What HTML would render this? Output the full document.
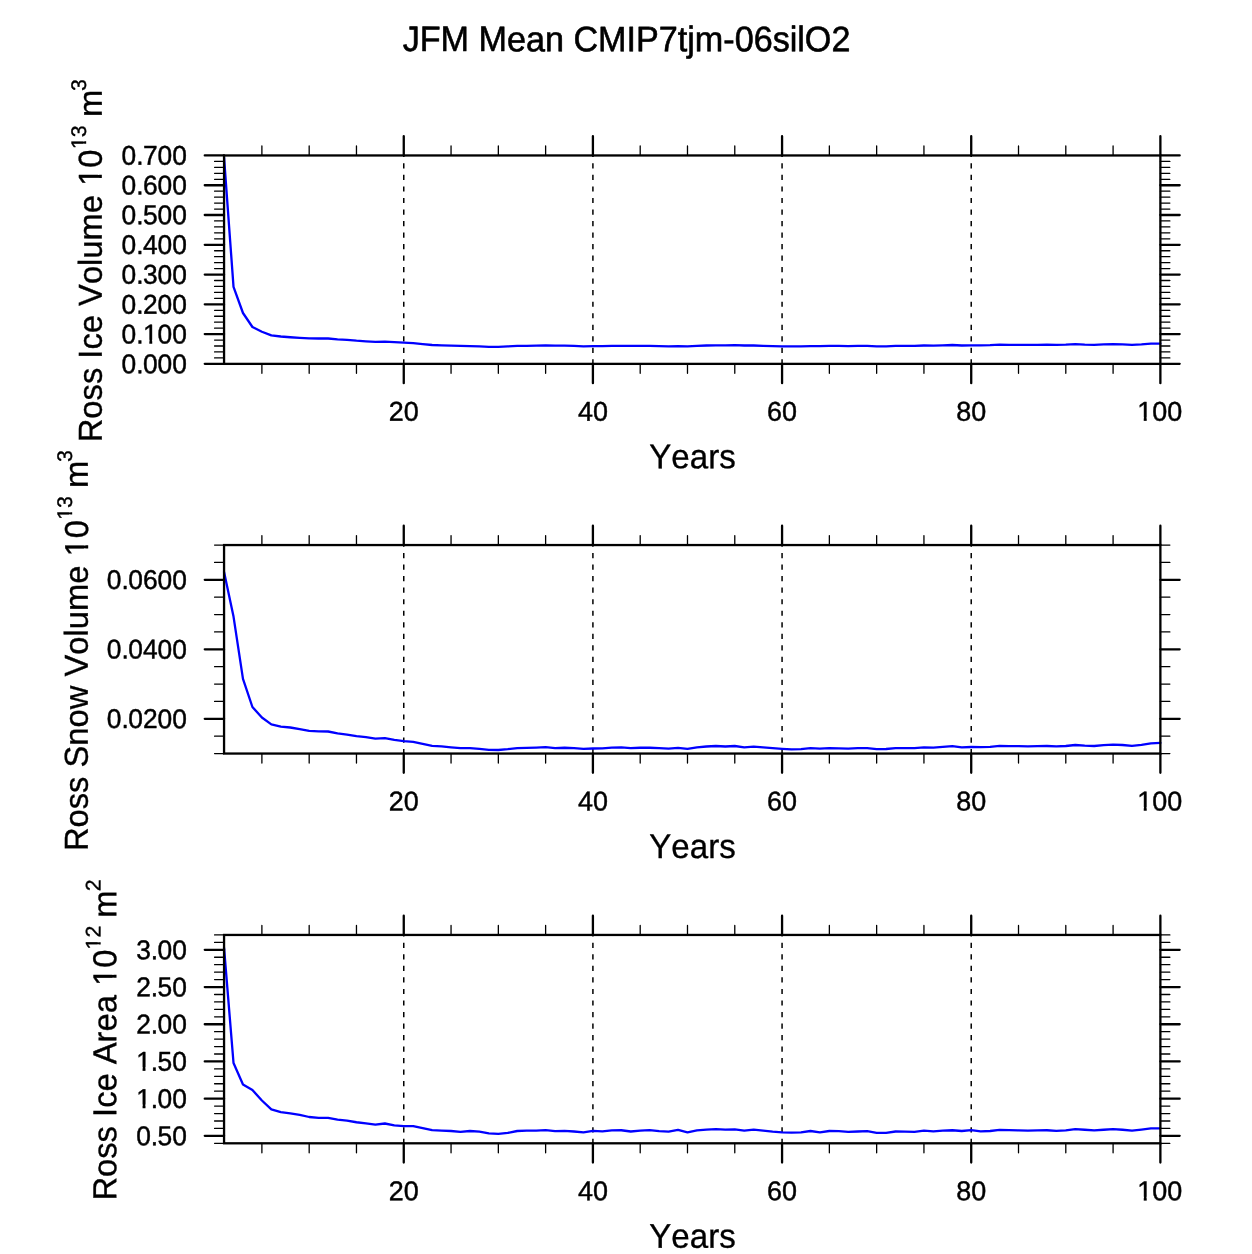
<!DOCTYPE html>
<html lang="en"><head><meta charset="utf-8"><title>JFM Mean CMIP7tjm-06silO2</title>
<style>
html,body{margin:0;padding:0;background:#fff;}
body{width:1252px;height:1254px;overflow:hidden;}
svg{display:block;font-family:"Liberation Sans",sans-serif;}
text{fill:#000;stroke:#000;stroke-linejoin:round;font-kerning:none;}
</style></head><body>
<svg width="1252" height="1254" viewBox="0 0 1252 1254">
<rect width="1252" height="1254" fill="#fff"/>
<text transform="matrix(0.9650 0.0006 0 1 626.55 51.20)" font-size="35.4" text-anchor="middle" stroke-width="0.6">JFM Mean CMIP7tjm-06silO2</text>
<g><path d="M403.76 364.47V155.46M592.91 364.47V155.46M782.07 364.47V155.46M971.22 364.47V155.46" fill="none" stroke="#000" stroke-width="1.5" stroke-dasharray="5.2 6.325"/>
<polyline points="224.06,157.70 233.52,286.80 242.98,313.00 252.43,327.00 261.89,331.75 271.35,335.40 280.81,336.50 290.26,337.25 299.72,337.90 309.18,338.45 318.64,338.50 328.10,338.50 337.55,339.30 347.01,339.80 356.47,340.70 365.93,341.30 375.38,341.85 384.84,341.60 394.30,342.20 403.76,342.65 413.22,343.10 422.67,344.05 432.13,345.00 441.59,345.30 451.05,345.65 460.50,345.97 469.96,346.10 479.42,346.45 488.88,346.80 498.34,346.80 507.79,346.45 517.25,345.97 526.71,345.80 536.17,345.65 545.62,345.50 555.08,345.65 564.54,345.65 574.00,345.97 583.46,346.30 592.91,346.20 602.37,346.10 611.83,345.80 621.29,345.80 630.74,345.97 640.20,345.80 649.66,345.80 659.12,346.10 668.58,346.30 678.03,346.10 687.49,346.45 696.95,345.80 706.41,345.50 715.86,345.30 725.32,345.30 734.78,345.20 744.24,345.50 753.70,345.50 763.15,345.80 772.61,346.10 782.07,346.30 791.53,346.45 800.98,346.45 810.44,346.10 819.90,346.10 829.36,345.80 838.82,345.97 848.27,346.10 857.73,345.97 867.19,345.97 876.65,346.45 886.10,346.45 895.56,345.97 905.02,345.80 914.48,345.80 923.94,345.50 933.39,345.65 942.85,345.30 952.31,345.00 961.77,345.50 971.22,345.30 980.68,345.30 990.14,345.20 999.60,344.70 1009.06,344.85 1018.51,344.85 1027.97,344.85 1037.43,344.85 1046.89,344.70 1056.34,344.85 1065.80,344.70 1075.26,344.20 1084.72,344.70 1094.18,344.85 1103.63,344.40 1113.09,344.05 1122.55,344.40 1132.01,344.85 1141.46,344.40 1150.92,343.70 1160.38,343.60" fill="none" stroke="#0000ff" stroke-width="2.3" stroke-linejoin="round" stroke-linecap="round"/>
<path d="M224.06 357.92H214.56M1160.38 357.92H1169.88M224.06 351.96H214.56M1160.38 351.96H1169.88M224.06 346.01H214.56M1160.38 346.01H1169.88M224.06 340.05H214.56M1160.38 340.05H1169.88M224.06 328.14H214.56M1160.38 328.14H1169.88M224.06 322.19H214.56M1160.38 322.19H1169.88M224.06 316.23H214.56M1160.38 316.23H1169.88M224.06 310.28H214.56M1160.38 310.28H1169.88M224.06 298.37H214.56M1160.38 298.37H1169.88M224.06 292.42H214.56M1160.38 292.42H1169.88M224.06 286.46H214.56M1160.38 286.46H1169.88M224.06 280.51H214.56M1160.38 280.51H1169.88M224.06 268.60H214.56M1160.38 268.60H1169.88M224.06 262.64H214.56M1160.38 262.64H1169.88M224.06 256.69H214.56M1160.38 256.69H1169.88M224.06 250.73H214.56M1160.38 250.73H1169.88M224.06 238.82H214.56M1160.38 238.82H1169.88M224.06 232.87H214.56M1160.38 232.87H1169.88M224.06 226.91H214.56M1160.38 226.91H1169.88M224.06 220.96H214.56M1160.38 220.96H1169.88M224.06 209.05H214.56M1160.38 209.05H1169.88M224.06 203.10H214.56M1160.38 203.10H1169.88M224.06 197.14H214.56M1160.38 197.14H1169.88M224.06 191.19H214.56M1160.38 191.19H1169.88M224.06 179.28H214.56M1160.38 179.28H1169.88M224.06 173.32H214.56M1160.38 173.32H1169.88M224.06 167.37H214.56M1160.38 167.37H1169.88M224.06 161.41H214.56M1160.38 161.41H1169.88M261.89 155.46V145.96M261.89 363.87V373.37M309.18 155.46V145.96M309.18 363.87V373.37M356.47 155.46V145.96M356.47 363.87V373.37M451.05 155.46V145.96M451.05 363.87V373.37M498.34 155.46V145.96M498.34 363.87V373.37M545.62 155.46V145.96M545.62 363.87V373.37M640.20 155.46V145.96M640.20 363.87V373.37M687.49 155.46V145.96M687.49 363.87V373.37M734.78 155.46V145.96M734.78 363.87V373.37M829.36 155.46V145.96M829.36 363.87V373.37M876.65 155.46V145.96M876.65 363.87V373.37M923.94 155.46V145.96M923.94 363.87V373.37M1018.51 155.46V145.96M1018.51 363.87V373.37M1065.80 155.46V145.96M1065.80 363.87V373.37M1113.09 155.46V145.96M1113.09 363.87V373.37" fill="none" stroke="#000" stroke-width="1.3" stroke-linecap="round"/>
<path d="M224.06 363.87H204.76M1160.38 363.87H1179.68M224.06 334.10H204.76M1160.38 334.10H1179.68M224.06 304.32H204.76M1160.38 304.32H1179.68M224.06 274.55H204.76M1160.38 274.55H1179.68M224.06 244.78H204.76M1160.38 244.78H1179.68M224.06 215.01H204.76M1160.38 215.01H1179.68M224.06 185.23H204.76M1160.38 185.23H1179.68M224.06 155.46H204.76M1160.38 155.46H1179.68M403.76 155.46V136.16M403.76 363.87V383.17M592.91 155.46V136.16M592.91 363.87V383.17M782.07 155.46V136.16M782.07 363.87V383.17M971.22 155.46V136.16M971.22 363.87V383.17M1160.38 155.46V136.16M1160.38 363.87V383.17" fill="none" stroke="#000" stroke-width="2.3" stroke-linecap="round"/>
<rect x="224.06" y="155.46" width="936.32" height="208.41" fill="none" stroke="#000" stroke-width="2.3"/>
<text transform="matrix(0.9700 0.0006 0 1 186.95 373.22)" font-size="27.2" text-anchor="end" stroke-width="0.45" dx="0 0 -0.6 0 0">0.000</text>
<text transform="matrix(0.9700 0.0006 0 1 186.95 343.45)" font-size="27.2" text-anchor="end" stroke-width="0.45" dx="0 0 -0.6 0 0">0.100</text><path transform="matrix(0.9700 0.0006 0 1 186.95 343.45)" d="M-44.33 -3.56h5.54v4.98h-5.54zM-35.79 -3.56h5.24v4.98h-5.24z" fill="#fff"/>
<text transform="matrix(0.9700 0.0006 0 1 186.95 313.67)" font-size="27.2" text-anchor="end" stroke-width="0.45" dx="0 0 -0.6 0 0">0.200</text>
<text transform="matrix(0.9700 0.0006 0 1 186.95 283.90)" font-size="27.2" text-anchor="end" stroke-width="0.45" dx="0 0 -0.6 0 0">0.300</text>
<text transform="matrix(0.9700 0.0006 0 1 186.95 254.13)" font-size="27.2" text-anchor="end" stroke-width="0.45" dx="0 0 -0.6 0 0">0.400</text>
<text transform="matrix(0.9700 0.0006 0 1 186.95 224.36)" font-size="27.2" text-anchor="end" stroke-width="0.45" dx="0 0 -0.6 0 0">0.500</text>
<text transform="matrix(0.9700 0.0006 0 1 186.95 194.58)" font-size="27.2" text-anchor="end" stroke-width="0.45" dx="0 0 -0.6 0 0">0.600</text>
<text transform="matrix(0.9700 0.0006 0 1 186.95 164.81)" font-size="27.2" text-anchor="end" stroke-width="0.45" dx="0 0 -0.6 0 0">0.700</text>
<text transform="matrix(0.9900 0.0006 0 1 403.76 420.84)" font-size="27.2" text-anchor="middle" stroke-width="0.45">20</text>
<text transform="matrix(0.9900 0.0006 0 1 592.91 420.84)" font-size="27.2" text-anchor="middle" stroke-width="0.45">40</text>
<text transform="matrix(0.9900 0.0006 0 1 782.07 420.84)" font-size="27.2" text-anchor="middle" stroke-width="0.45">60</text>
<text transform="matrix(0.9900 0.0006 0 1 971.22 420.84)" font-size="27.2" text-anchor="middle" stroke-width="0.45">80</text>
<text transform="matrix(0.9900 0.0006 0 1 1159.68 420.84)" font-size="27.2" text-anchor="middle" stroke-width="0.45">100</text><path transform="matrix(0.9900 0.0006 0 1 1159.68 420.84)" d="M-21.64 -3.56h5.54v4.98h-5.54zM-13.10 -3.56h5.24v4.98h-5.24z" fill="#fff"/>
<text transform="matrix(0.9680 0.0006 0 1 692.52 468.27)" font-size="34.2" text-anchor="middle" stroke-width="0.35">Years</text>
<g transform="translate(101.70 442.30) rotate(-90)"><text transform="matrix(0.9860 0.0006 0 1 0.00 0.00)" font-size="33.2" text-anchor="start" stroke-width="0.35">Ross Ice Volume 10</text><path transform="matrix(0.9860 0.0006 0 1 0.00 0.00)" d="M261.62 -3.96h6.50v5.33h-6.50zM271.28 -3.96h6.60v5.33h-6.60z" fill="#fff"/><text transform="matrix(1.0000 0.0006 0 1 293.20 -15.60)" font-size="21.2" text-anchor="start" stroke-width="0.35">13</text><path transform="matrix(1.0000 0.0006 0 1 293.20 -15.60)" d="M0.64 -3.06h4.68v4.43h-4.68zM7.73 -3.06h4.00v4.43h-4.00z" fill="#fff"/><text transform="matrix(0.9860 0.0006 0 1 325.20 0.00)" font-size="33.2" text-anchor="start" stroke-width="0.35">m</text><text transform="matrix(1.0000 0.0006 0 1 351.20 -15.60)" font-size="21.2" text-anchor="start" stroke-width="0.35">3</text></g></g>
<g><path d="M403.76 754.15V545.05M592.91 754.15V545.05M782.07 754.15V545.05M971.22 754.15V545.05" fill="none" stroke="#000" stroke-width="1.5" stroke-dasharray="5.2 6.325"/>
<polyline points="224.06,572.00 233.52,616.60 242.98,678.80 252.43,707.00 261.89,717.50 271.35,724.35 280.81,726.65 290.26,727.50 299.72,729.20 309.18,730.90 318.64,731.35 328.10,731.50 337.55,733.40 347.01,734.55 356.47,736.20 365.93,737.20 375.38,738.60 384.84,738.10 394.30,739.90 403.76,741.05 413.22,741.80 422.67,743.90 432.13,745.80 441.59,746.30 451.05,747.30 460.50,748.10 469.96,748.10 479.42,748.90 488.88,749.80 498.34,750.00 507.79,749.20 517.25,748.10 526.71,747.90 536.17,747.60 545.62,747.10 555.08,748.20 564.54,747.75 574.00,748.20 583.46,748.90 592.91,748.50 602.37,748.40 611.83,747.60 621.29,747.40 630.74,748.20 640.20,747.75 649.66,747.75 659.12,748.20 668.58,748.55 678.03,747.90 687.49,748.90 696.95,747.30 706.41,746.50 715.86,746.00 725.32,746.50 734.78,746.00 744.24,747.40 753.70,746.60 763.15,747.40 772.61,748.20 782.07,748.80 791.53,749.35 800.98,749.20 810.44,748.20 819.90,748.55 829.36,748.10 838.82,748.40 848.27,748.55 857.73,748.20 867.19,748.20 876.65,749.20 886.10,749.00 895.56,748.20 905.02,748.20 914.48,748.20 923.94,747.40 933.39,747.60 942.85,746.95 952.31,746.15 961.77,747.30 971.22,747.00 980.68,747.10 990.14,746.80 999.60,745.80 1009.06,746.15 1018.51,746.15 1027.97,746.30 1037.43,746.15 1046.89,746.00 1056.34,746.30 1065.80,746.00 1075.26,745.00 1084.72,745.70 1094.18,746.00 1103.63,745.20 1113.09,744.55 1122.55,745.00 1132.01,745.80 1141.46,744.90 1150.92,743.30 1160.38,742.90" fill="none" stroke="#0000ff" stroke-width="2.3" stroke-linejoin="round" stroke-linecap="round"/>
<path d="M224.06 753.55H214.56M1160.38 753.55H1169.88M224.06 736.17H214.56M1160.38 736.17H1169.88M224.06 701.42H214.56M1160.38 701.42H1169.88M224.06 684.05H214.56M1160.38 684.05H1169.88M224.06 666.67H214.56M1160.38 666.67H1169.88M224.06 631.92H214.56M1160.38 631.92H1169.88M224.06 614.55H214.56M1160.38 614.55H1169.88M224.06 597.17H214.56M1160.38 597.17H1169.88M224.06 562.42H214.56M1160.38 562.42H1169.88M224.06 545.05H214.56M1160.38 545.05H1169.88M261.89 545.05V535.55M261.89 753.55V763.05M309.18 545.05V535.55M309.18 753.55V763.05M356.47 545.05V535.55M356.47 753.55V763.05M451.05 545.05V535.55M451.05 753.55V763.05M498.34 545.05V535.55M498.34 753.55V763.05M545.62 545.05V535.55M545.62 753.55V763.05M640.20 545.05V535.55M640.20 753.55V763.05M687.49 545.05V535.55M687.49 753.55V763.05M734.78 545.05V535.55M734.78 753.55V763.05M829.36 545.05V535.55M829.36 753.55V763.05M876.65 545.05V535.55M876.65 753.55V763.05M923.94 545.05V535.55M923.94 753.55V763.05M1018.51 545.05V535.55M1018.51 753.55V763.05M1065.80 545.05V535.55M1065.80 753.55V763.05M1113.09 545.05V535.55M1113.09 753.55V763.05" fill="none" stroke="#000" stroke-width="1.3" stroke-linecap="round"/>
<path d="M224.06 718.80H204.76M1160.38 718.80H1179.68M224.06 649.30H204.76M1160.38 649.30H1179.68M224.06 579.80H204.76M1160.38 579.80H1179.68M403.76 545.05V525.75M403.76 753.55V772.85M592.91 545.05V525.75M592.91 753.55V772.85M782.07 545.05V525.75M782.07 753.55V772.85M971.22 545.05V525.75M971.22 753.55V772.85M1160.38 545.05V525.75M1160.38 753.55V772.85" fill="none" stroke="#000" stroke-width="2.3" stroke-linecap="round"/>
<rect x="224.06" y="545.05" width="936.32" height="208.50" fill="none" stroke="#000" stroke-width="2.3"/>
<text transform="matrix(0.9700 0.0006 0 1 186.95 728.15)" font-size="27.2" text-anchor="end" stroke-width="0.45" dx="0 0 -0.6 0 0 0">0.0200</text>
<text transform="matrix(0.9700 0.0006 0 1 186.95 658.65)" font-size="27.2" text-anchor="end" stroke-width="0.45" dx="0 0 -0.6 0 0 0">0.0400</text>
<text transform="matrix(0.9700 0.0006 0 1 186.95 589.15)" font-size="27.2" text-anchor="end" stroke-width="0.45" dx="0 0 -0.6 0 0 0">0.0600</text>
<text transform="matrix(0.9900 0.0006 0 1 403.76 810.52)" font-size="27.2" text-anchor="middle" stroke-width="0.45">20</text>
<text transform="matrix(0.9900 0.0006 0 1 592.91 810.52)" font-size="27.2" text-anchor="middle" stroke-width="0.45">40</text>
<text transform="matrix(0.9900 0.0006 0 1 782.07 810.52)" font-size="27.2" text-anchor="middle" stroke-width="0.45">60</text>
<text transform="matrix(0.9900 0.0006 0 1 971.22 810.52)" font-size="27.2" text-anchor="middle" stroke-width="0.45">80</text>
<text transform="matrix(0.9900 0.0006 0 1 1159.68 810.52)" font-size="27.2" text-anchor="middle" stroke-width="0.45">100</text><path transform="matrix(0.9900 0.0006 0 1 1159.68 810.52)" d="M-21.64 -3.56h5.54v4.98h-5.54zM-13.10 -3.56h5.24v4.98h-5.24z" fill="#fff"/>
<text transform="matrix(0.9680 0.0006 0 1 692.52 857.95)" font-size="34.2" text-anchor="middle" stroke-width="0.35">Years</text>
<g transform="translate(87.70 851.10) rotate(-90)"><text transform="matrix(0.9860 0.0006 0 1 0.00 0.00)" font-size="33.2" text-anchor="start" stroke-width="0.35">Ross Snow Volume 10</text><path transform="matrix(0.9860 0.0006 0 1 0.00 0.00)" d="M300.37 -3.96h6.51v5.33h-6.51zM310.15 -3.96h6.48v5.33h-6.48z" fill="#fff"/><text transform="matrix(1.0000 0.0006 0 1 331.30 -15.60)" font-size="21.2" text-anchor="start" stroke-width="0.35">13</text><path transform="matrix(1.0000 0.0006 0 1 331.30 -15.60)" d="M0.64 -3.06h4.62v4.43h-4.62zM7.60 -3.06h4.13v4.43h-4.13z" fill="#fff"/><text transform="matrix(0.9860 0.0006 0 1 363.10 0.00)" font-size="33.2" text-anchor="start" stroke-width="0.35">m</text><text transform="matrix(1.0000 0.0006 0 1 389.10 -15.60)" font-size="21.2" text-anchor="start" stroke-width="0.35">3</text></g></g>
<g><path d="M403.76 1143.90V934.95M592.91 1143.90V934.95M782.07 1143.90V934.95M971.22 1143.90V934.95" fill="none" stroke="#000" stroke-width="1.5" stroke-dasharray="5.2 6.325"/>
<polyline points="224.06,947.80 233.52,1063.00 242.98,1084.55 252.43,1090.10 261.89,1100.50 271.35,1109.40 280.81,1112.10 290.26,1113.30 299.72,1114.85 309.18,1117.00 318.64,1117.80 328.10,1117.80 337.55,1119.70 347.01,1120.60 356.47,1122.25 365.93,1123.40 375.38,1124.55 384.84,1123.50 394.30,1125.45 403.76,1126.10 413.22,1126.10 422.67,1128.20 432.13,1130.20 441.59,1130.55 451.05,1131.00 460.50,1131.80 469.96,1131.00 479.42,1131.70 488.88,1133.30 498.34,1133.90 507.79,1132.95 517.25,1131.00 526.71,1130.70 536.17,1130.55 545.62,1130.10 555.08,1131.20 564.54,1130.90 574.00,1131.50 583.46,1132.30 592.91,1130.90 602.37,1131.35 611.83,1130.40 621.29,1130.25 630.74,1131.50 640.20,1130.55 649.66,1130.10 659.12,1131.20 668.58,1131.70 678.03,1129.90 687.49,1132.30 696.95,1130.40 706.41,1129.60 715.86,1129.10 725.32,1129.60 734.78,1129.45 744.24,1130.70 753.70,1129.60 763.15,1130.55 772.61,1131.70 782.07,1132.30 791.53,1132.60 800.98,1132.30 810.44,1131.00 819.90,1132.30 829.36,1131.00 838.82,1131.20 848.27,1131.80 857.73,1131.50 867.19,1131.20 876.65,1132.80 886.10,1132.80 895.56,1131.50 905.02,1131.70 914.48,1131.80 923.94,1130.70 933.39,1131.35 942.85,1130.70 952.31,1130.25 961.77,1131.00 971.22,1130.20 980.68,1131.35 990.14,1131.00 999.60,1129.90 1009.06,1130.10 1018.51,1130.40 1027.97,1130.55 1037.43,1130.40 1046.89,1130.25 1056.34,1130.90 1065.80,1130.40 1075.26,1129.10 1084.72,1129.75 1094.18,1130.40 1103.63,1129.75 1113.09,1129.10 1122.55,1129.75 1132.01,1130.55 1141.46,1129.60 1150.92,1128.45 1160.38,1128.30" fill="none" stroke="#0000ff" stroke-width="2.3" stroke-linejoin="round" stroke-linecap="round"/>
<path d="M224.06 1143.30H214.56M1160.38 1143.30H1169.88M224.06 1128.42H214.56M1160.38 1128.42H1169.88M224.06 1120.98H214.56M1160.38 1120.98H1169.88M224.06 1113.54H214.56M1160.38 1113.54H1169.88M224.06 1106.09H214.56M1160.38 1106.09H1169.88M224.06 1091.21H214.56M1160.38 1091.21H1169.88M224.06 1083.77H214.56M1160.38 1083.77H1169.88M224.06 1076.33H214.56M1160.38 1076.33H1169.88M224.06 1068.89H214.56M1160.38 1068.89H1169.88M224.06 1054.01H214.56M1160.38 1054.01H1169.88M224.06 1046.57H214.56M1160.38 1046.57H1169.88M224.06 1039.12H214.56M1160.38 1039.12H1169.88M224.06 1031.68H214.56M1160.38 1031.68H1169.88M224.06 1016.80H214.56M1160.38 1016.80H1169.88M224.06 1009.36H214.56M1160.38 1009.36H1169.88M224.06 1001.92H214.56M1160.38 1001.92H1169.88M224.06 994.48H214.56M1160.38 994.48H1169.88M224.06 979.60H214.56M1160.38 979.60H1169.88M224.06 972.16H214.56M1160.38 972.16H1169.88M224.06 964.71H214.56M1160.38 964.71H1169.88M224.06 957.27H214.56M1160.38 957.27H1169.88M224.06 942.39H214.56M1160.38 942.39H1169.88M224.06 934.95H214.56M1160.38 934.95H1169.88M261.89 934.95V925.45M261.89 1143.30V1152.80M309.18 934.95V925.45M309.18 1143.30V1152.80M356.47 934.95V925.45M356.47 1143.30V1152.80M451.05 934.95V925.45M451.05 1143.30V1152.80M498.34 934.95V925.45M498.34 1143.30V1152.80M545.62 934.95V925.45M545.62 1143.30V1152.80M640.20 934.95V925.45M640.20 1143.30V1152.80M687.49 934.95V925.45M687.49 1143.30V1152.80M734.78 934.95V925.45M734.78 1143.30V1152.80M829.36 934.95V925.45M829.36 1143.30V1152.80M876.65 934.95V925.45M876.65 1143.30V1152.80M923.94 934.95V925.45M923.94 1143.30V1152.80M1018.51 934.95V925.45M1018.51 1143.30V1152.80M1065.80 934.95V925.45M1065.80 1143.30V1152.80M1113.09 934.95V925.45M1113.09 1143.30V1152.80" fill="none" stroke="#000" stroke-width="1.3" stroke-linecap="round"/>
<path d="M224.06 1135.86H204.76M1160.38 1135.86H1179.68M224.06 1098.65H204.76M1160.38 1098.65H1179.68M224.06 1061.45H204.76M1160.38 1061.45H1179.68M224.06 1024.24H204.76M1160.38 1024.24H1179.68M224.06 987.04H204.76M1160.38 987.04H1179.68M224.06 949.83H204.76M1160.38 949.83H1179.68M403.76 934.95V915.65M403.76 1143.30V1162.60M592.91 934.95V915.65M592.91 1143.30V1162.60M782.07 934.95V915.65M782.07 1143.30V1162.60M971.22 934.95V915.65M971.22 1143.30V1162.60M1160.38 934.95V915.65M1160.38 1143.30V1162.60" fill="none" stroke="#000" stroke-width="2.3" stroke-linecap="round"/>
<rect x="224.06" y="934.95" width="936.32" height="208.35" fill="none" stroke="#000" stroke-width="2.3"/>
<text transform="matrix(0.9700 0.0006 0 1 186.95 1145.21)" font-size="27.2" text-anchor="end" stroke-width="0.45" dx="0 0 -0.6 0">0.50</text>
<text transform="matrix(0.9700 0.0006 0 1 186.95 1108.00)" font-size="27.2" text-anchor="end" stroke-width="0.45" dx="0 0 -0.6 0">1.00</text><path transform="matrix(0.9700 0.0006 0 1 186.95 1108.00)" d="M-51.29 -3.56h5.54v4.98h-5.54zM-42.75 -3.56h5.24v4.98h-5.24z" fill="#fff"/>
<text transform="matrix(0.9700 0.0006 0 1 186.95 1070.80)" font-size="27.2" text-anchor="end" stroke-width="0.45" dx="0 0 -0.6 0">1.50</text><path transform="matrix(0.9700 0.0006 0 1 186.95 1070.80)" d="M-51.29 -3.56h5.54v4.98h-5.54zM-42.75 -3.56h5.24v4.98h-5.24z" fill="#fff"/>
<text transform="matrix(0.9700 0.0006 0 1 186.95 1033.59)" font-size="27.2" text-anchor="end" stroke-width="0.45" dx="0 0 -0.6 0">2.00</text>
<text transform="matrix(0.9700 0.0006 0 1 186.95 996.39)" font-size="27.2" text-anchor="end" stroke-width="0.45" dx="0 0 -0.6 0">2.50</text>
<text transform="matrix(0.9700 0.0006 0 1 186.95 959.18)" font-size="27.2" text-anchor="end" stroke-width="0.45" dx="0 0 -0.6 0">3.00</text>
<text transform="matrix(0.9900 0.0006 0 1 403.76 1200.27)" font-size="27.2" text-anchor="middle" stroke-width="0.45">20</text>
<text transform="matrix(0.9900 0.0006 0 1 592.91 1200.27)" font-size="27.2" text-anchor="middle" stroke-width="0.45">40</text>
<text transform="matrix(0.9900 0.0006 0 1 782.07 1200.27)" font-size="27.2" text-anchor="middle" stroke-width="0.45">60</text>
<text transform="matrix(0.9900 0.0006 0 1 971.22 1200.27)" font-size="27.2" text-anchor="middle" stroke-width="0.45">80</text>
<text transform="matrix(0.9900 0.0006 0 1 1159.68 1200.27)" font-size="27.2" text-anchor="middle" stroke-width="0.45">100</text><path transform="matrix(0.9900 0.0006 0 1 1159.68 1200.27)" d="M-21.64 -3.56h5.54v4.98h-5.54zM-13.10 -3.56h5.24v4.98h-5.24z" fill="#fff"/>
<text transform="matrix(0.9680 0.0006 0 1 692.52 1247.70)" font-size="34.2" text-anchor="middle" stroke-width="0.35">Years</text>
<g transform="translate(116.20 1200.60) rotate(-90)"><text transform="matrix(0.9860 0.0006 0 1 0.00 0.00)" font-size="33.2" text-anchor="start" stroke-width="0.35">Ross Ice Area 10</text><path transform="matrix(0.9860 0.0006 0 1 0.00 0.00)" d="M219.19 -3.96h6.74v5.33h-6.74zM229.09 -3.96h6.37v5.33h-6.37z" fill="#fff"/><text transform="matrix(1.0000 0.0006 0 1 251.20 -15.60)" font-size="21.2" text-anchor="start" stroke-width="0.35">12</text><path transform="matrix(1.0000 0.0006 0 1 251.20 -15.60)" d="M0.64 -3.06h4.34v4.43h-4.34zM7.26 -3.06h4.47v4.43h-4.47z" fill="#fff"/><text transform="matrix(0.9860 0.0006 0 1 282.90 0.00)" font-size="33.2" text-anchor="start" stroke-width="0.35">m</text><text transform="matrix(1.0000 0.0006 0 1 309.40 -15.60)" font-size="21.2" text-anchor="start" stroke-width="0.35">2</text></g></g>
</svg>
</body></html>
